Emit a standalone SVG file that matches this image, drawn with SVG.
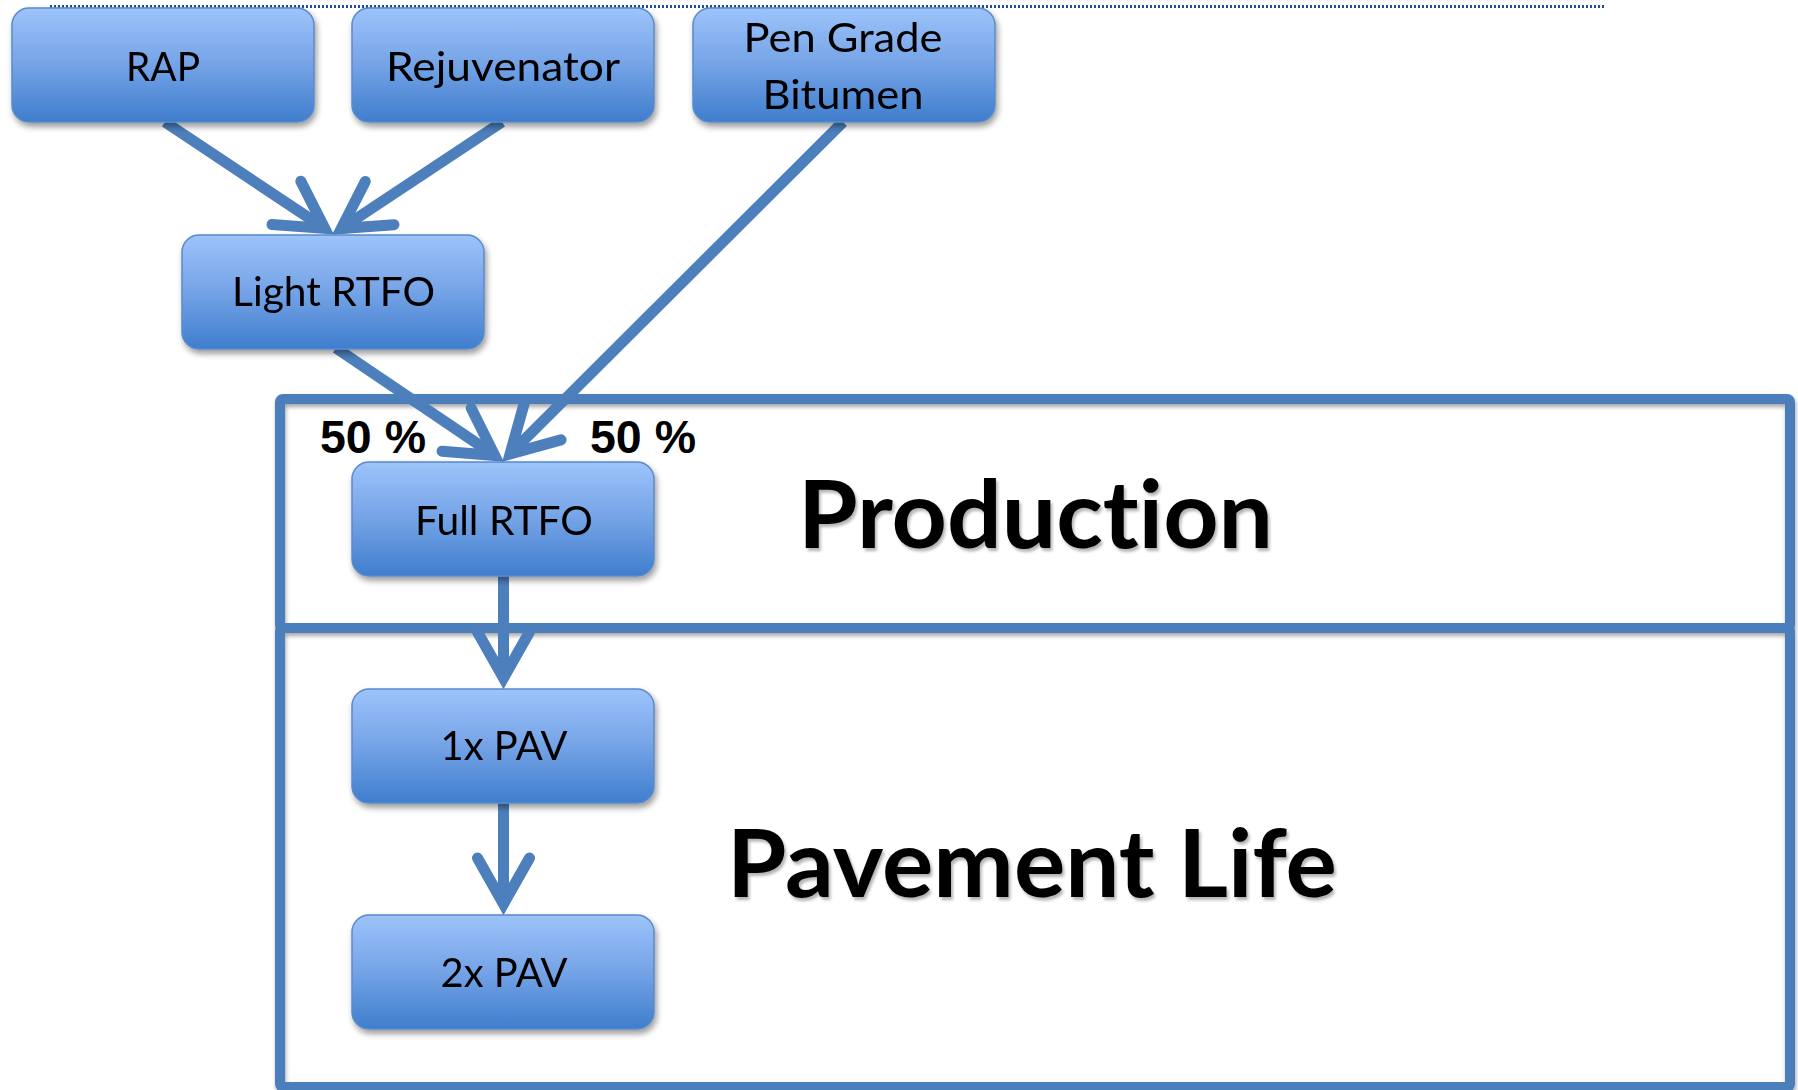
<svg xmlns="http://www.w3.org/2000/svg" width="1798" height="1090" viewBox="0 0 1798 1090">
  <defs>
    <linearGradient id="boxGrad" x1="0" y1="0" x2="0" y2="1">
      <stop offset="0" stop-color="#9DC3FA"/>
      <stop offset="0.5" stop-color="#74A3E6"/>
      <stop offset="1" stop-color="#3F7ECD"/>
    </linearGradient>
    <filter id="shadow" x="-10%" y="-10%" width="120%" height="130%">
      <feGaussianBlur in="SourceAlpha" stdDeviation="3"/>
      <feOffset dx="2" dy="4" result="b"/>
      <feComponentTransfer><feFuncA type="linear" slope="0.4"/></feComponentTransfer>
      <feMerge><feMergeNode/><feMergeNode in="SourceGraphic"/></feMerge>
    </filter>
    <filter id="frameShadow" x="-2%" y="-5%" width="104%" height="110%">
      <feGaussianBlur in="SourceAlpha" stdDeviation="2"/>
      <feOffset dx="1" dy="3" result="b"/>
      <feComponentTransfer><feFuncA type="linear" slope="0.35"/></feComponentTransfer>
      <feMerge><feMergeNode/><feMergeNode in="SourceGraphic"/></feMerge>
    </filter>
    <filter id="textShadow" x="-5%" y="-10%" width="110%" height="130%">
      <feGaussianBlur in="SourceAlpha" stdDeviation="1.5"/>
      <feOffset dx="2" dy="3" result="b"/>
      <feComponentTransfer><feFuncA type="linear" slope="0.3"/></feComponentTransfer>
      <feMerge><feMergeNode/><feMergeNode in="SourceGraphic"/></feMerge>
    </filter>
    <marker id="arrow" markerUnits="userSpaceOnUse" viewBox="-60 -35 75 70" markerWidth="75" markerHeight="70" refX="0" refY="0" orient="auto" overflow="visible">
      <path d="M-46,-26 L0,0 L-46,26" fill="none" stroke="#4C7FBC" stroke-width="11" stroke-linecap="round" stroke-linejoin="miter" stroke-miterlimit="6"/>
    </marker>
    <style>
      text { font-variant-ligatures: none; font-feature-settings: "liga" 0; }
      .box { fill: url(#boxGrad); stroke: #5A8ACB; stroke-width: 1.5; }
      .lbl { font-family: Lato, "Open Sans", sans-serif; font-size: 41px; fill: #000; text-anchor: middle; }
      .big { font-family: Lato, "Open Sans", sans-serif; font-weight: bold; font-size: 93px; fill: #000; }
      .pct { font-family: "Liberation Sans", Arial, sans-serif; font-weight: bold; font-size: 47px; fill: #000; }
      .frame { fill: none; stroke: #4C7FBC; stroke-width: 10; }
      .conn { fill: none; stroke: #4C7FBC; stroke-width: 11; stroke-linecap: butt; marker-end: url(#arrow); }
    </style>
  </defs>
  <rect width="1798" height="1090" fill="#FFFFFF"/>

  <line x1="50" y1="6.5" x2="1605" y2="6.5" stroke="#1F4E96" stroke-width="3" stroke-dasharray="2 2"/>

  <g id="frames" filter="url(#frameShadow)">
    <rect id="production-frame" class="frame" x="280" y="399" width="1510" height="229" rx="3"/>
    <rect id="pavement-frame" class="frame" x="280" y="628" width="1510" height="459" rx="3"/>
  </g>

  <g id="connectors">
    <line class="conn" x1="165" y1="122" x2="324.7" y2="228.4"/>
    <line class="conn" x1="502" y1="122" x2="341.3" y2="228.5"/>
    <line class="conn" x1="336" y1="348" x2="494.7" y2="455.4"/>
    <line class="conn" x1="843" y1="122" x2="510.1" y2="453.9"/>
    <line class="conn" x1="503.5" y1="576" x2="503.5" y2="678"/>
    <line class="conn" x1="503.5" y1="803" x2="503.5" y2="904"/>
  </g>

  <g id="node-rap" filter="url(#shadow)">
    <rect class="box" x="12" y="8" width="302" height="114" rx="17"/>
    <text class="lbl" x="163" y="81" textLength="74" lengthAdjust="spacingAndGlyphs">RAP</text>
  </g>
  <g id="node-rejuvenator" filter="url(#shadow)">
    <rect class="box" x="352" y="8" width="302" height="114" rx="17"/>
    <text class="lbl" x="503" y="81" textLength="234" lengthAdjust="spacingAndGlyphs">Rejuvenator</text>
  </g>
  <g id="node-pen-grade" filter="url(#shadow)">
    <rect class="box" x="693" y="8" width="302" height="114" rx="17"/>
    <text class="lbl" x="843" y="52" textLength="199" lengthAdjust="spacingAndGlyphs">Pen Grade</text>
    <text class="lbl" x="843" y="109" textLength="161" lengthAdjust="spacingAndGlyphs">Bitumen</text>
  </g>
  <g id="node-light-rtfo" filter="url(#shadow)">
    <rect class="box" x="182" y="235" width="302" height="114" rx="17"/>
    <text class="lbl" x="333.5" y="306" textLength="203" lengthAdjust="spacingAndGlyphs">Light RTFO</text>
  </g>
  <g id="node-full-rtfo" filter="url(#shadow)">
    <rect class="box" x="352" y="462" width="302" height="114" rx="17"/>
    <text class="lbl" x="504" y="535" textLength="178" lengthAdjust="spacingAndGlyphs">Full RTFO</text>
  </g>
  <g id="node-1x-pav" filter="url(#shadow)">
    <rect class="box" x="352" y="689" width="302" height="114" rx="17"/>
    <text class="lbl" x="504" y="760" textLength="127" lengthAdjust="spacingAndGlyphs">1x PAV</text>
  </g>
  <g id="node-2x-pav" filter="url(#shadow)">
    <rect class="box" x="352" y="915" width="302" height="114" rx="17"/>
    <text class="lbl" x="504" y="987" textLength="127" lengthAdjust="spacingAndGlyphs">2x PAV</text>
  </g>

  <g id="labels">
    <text class="pct" x="320" y="453" textLength="106" lengthAdjust="spacingAndGlyphs">50 %</text>
    <text class="pct" x="590" y="453" textLength="106" lengthAdjust="spacingAndGlyphs">50 %</text>
    <text class="big" x="798" y="548" textLength="475" lengthAdjust="spacingAndGlyphs" filter="url(#textShadow)">Production</text>
    <text class="big" x="727" y="897" textLength="610" lengthAdjust="spacingAndGlyphs" filter="url(#textShadow)">Pavement Life</text>
  </g>
</svg>
